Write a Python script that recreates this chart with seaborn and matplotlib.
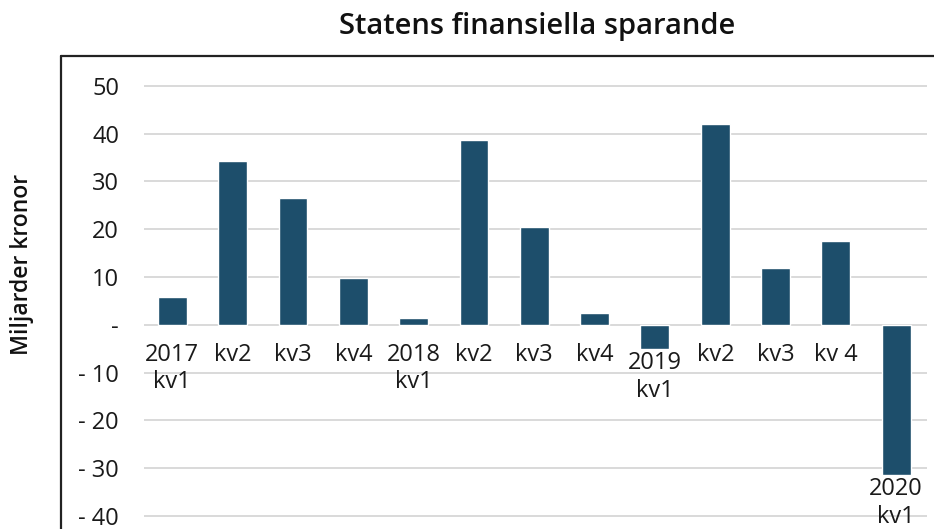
import numpy as np
import pandas as pd
import seaborn as sns
import matplotlib.pyplot as plt
from matplotlib.lines import Line2D
from matplotlib.ticker import FuncFormatter

periods = ["2017 kv1", "2017 kv2", "2017 kv3", "2017 kv4",
           "2018 kv1", "2018 kv2", "2018 kv3", "2018 kv4",
           "2019 kv1", "2019 kv2", "2019 kv3", "2019 kv4",
           "2020 kv1"]
tick_labels = ["2017\nkv1", "kv2", "kv3", "kv4",
               "2018\nkv1", "kv2", "kv3", "kv4",
               "2019\nkv1", "kv2", "kv3", "kv 4",
               "2020\nkv1"]
saldo = [5.8, 34.3, 26.6, 9.9, 1.5, 38.6, 20.5, 2.5, -5.0, 42.0, 11.9, 17.5, -31.4]
yticks = [50, 40, 30, 20, 10, 0, -10, -20, -30, -40]

BAR = "#1d4e6b"

sns.set_theme(style="white")
plt.rcParams["font.family"] = ["Open Sans", "DejaVu Sans"]

df = pd.DataFrame({"period": periods, "saldo": saldo})

fig = plt.figure(figsize=(9.34, 5.29), dpi=100)
ax = fig.add_axes([0.1542, 0.002, 0.8383, 0.8537])

sns.barplot(data=df, x="period", y="saldo", order=periods, color=BAR,
            saturation=1, width=0.48, ax=ax, zorder=3)

ax.set_ylim(-42.5, 52)
ax.set_xlim(-0.47, 12.51)
ax.set_yticks(yticks)
ax.yaxis.set_major_formatter(FuncFormatter(
    lambda v, p: "-" if v == 0 else (f"- {abs(int(v))}" if v < 0 else f"{int(v)}")))
ax.tick_params(axis="y", length=0, pad=18, labelsize=17, labelcolor="#1a1a1a")
ax.grid(axis="y", color="#d9d9d9", linewidth=1.4, zorder=0)
ax.set_xticks([])
ax.set_xlabel("")
ax.set_ylabel("")
for s in ax.spines.values():
    s.set_visible(False)

for i, (lab, v) in enumerate(zip(tick_labels, saldo)):
    y = v - 0.5 if v < 0 else -3.7
    ax.text(i, y, lab, ha="center", va="top", fontsize=17,
            color="#1a1a1a", linespacing=1.2, zorder=4)

fig.text(0.575, 0.95, "Statens finansiella sparande", ha="center", va="center",
         fontsize=21, fontweight="semibold", color="#111111")
fig.text(0.024, 0.5, "Miljarder kronor", ha="center", va="center", rotation=90,
         fontsize=16.5, fontweight="semibold", color="#111111")

# ram runt diagrammet
fig.add_artist(Line2D([61 / 934, 1.0], [1 - 56 / 529, 1 - 56 / 529],
                      transform=fig.transFigure, color="#222222", linewidth=1.6))
fig.add_artist(Line2D([61 / 934, 61 / 934], [1 - 56 / 529, 0.0],
                      transform=fig.transFigure, color="#222222", linewidth=1.6))

fig.savefig("out.png", dpi=100)
